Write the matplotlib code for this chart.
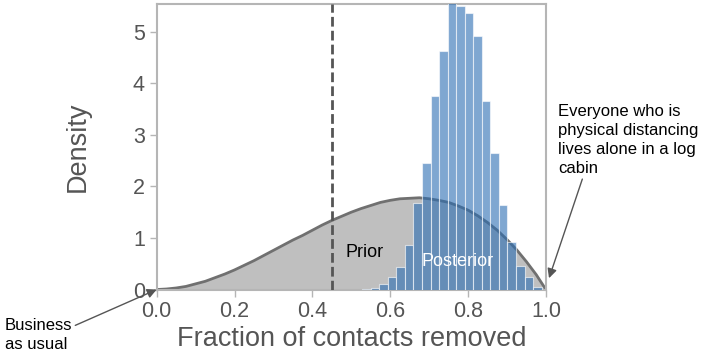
import numpy as np
import matplotlib
matplotlib.use("Agg")
import matplotlib.pyplot as plt

plt.rcParams['font.family'] = ['Liberation Sans', 'DejaVu Sans']

# prior curve, every 0.025
prior_x = [i * 0.025 for i in range(41)]
prior_y = [0.00, 0.01, 0.03, 0.06, 0.11, 0.16, 0.23, 0.30, 0.38, 0.47,
           0.56, 0.66, 0.76, 0.86, 0.96, 1.05, 1.15, 1.25, 1.34, 1.42,
           1.50, 1.57, 1.63, 1.69, 1.73, 1.76, 1.77, 1.78, 1.76, 1.73,
           1.69, 1.62, 1.54, 1.43, 1.30, 1.15, 0.97, 0.77, 0.54, 0.29, 0.00]

# posterior histogram (density)
bin_start = 0.528
bin_width = 0.02195
post_heights = [0.01, 0.02, 0.10, 0.24, 0.44, 0.86, 1.67, 2.45, 3.76, 4.63,
                5.75, 5.50, 5.37, 4.92, 3.65, 2.64, 1.63, 0.93, 0.46, 0.25, 0.05]
post_lefts = [bin_start + i * bin_width for i in range(len(post_heights))]

threshold = 0.45

fig = plt.figure(figsize=(7.24, 3.57), dpi=100)
ax = fig.add_axes([0.2164, 0.189, 0.5376, 0.800])

ax.fill_between(prior_x, prior_y, color='#bfbfbf', lw=0, zorder=1)
ax.plot(prior_x, prior_y, color='#707070', lw=2, zorder=2)
ax.bar(post_lefts, post_heights, width=bin_width, align='edge',
       color='#2a6db3', alpha=0.6, edgecolor='white', linewidth=0.8, zorder=3)
ax.axvline(threshold, color='#555555', lw=2, ls=(0, (3.5, 1.5)), zorder=4)

ax.text(0.535, 0.71, 'Prior', fontsize=13, color='black', ha='center', va='center', zorder=5)
ax.text(0.774, 0.54, 'Posterior', fontsize=13, color='white', ha='center', va='center', zorder=5)

ax.set_xlim(0, 1.0)
ax.set_ylim(0, 5.54)
ax.set_xticks([0.0, 0.2, 0.4, 0.6, 0.8, 1.0])
ax.set_xticklabels(['0.0', '0.2', '0.4', '0.6', '0.8', '1.0'])
ax.set_yticks([0, 1, 2, 3, 4, 5])

for s in ax.spines.values():
    s.set_color('#b5b5b5')
    s.set_linewidth(1.5)
ax.tick_params(colors='#b5b5b5', labelcolor='#555555', labelsize=15.5, length=5, width=1)

ax.set_xlabel('Fraction of contacts removed', fontsize=19.5, color='#555555', labelpad=3)
ax.set_ylabel('Density', fontsize=19.5, color='#555555', labelpad=30)

arrow = dict(arrowstyle='-|>', color='#555555', lw=1, mutation_scale=14, shrinkA=0, shrinkB=0)
ax.annotate('Business\nas usual', xy=(0, 0), xycoords='data',
            xytext=(5, 357 - 335), textcoords='figure pixels',
            fontsize=12, ha='left', va='center', linespacing=1.3,
            arrowprops=dict(arrow, relpos=(1.0, 0.75)), annotation_clip=False)
ax.annotate('Everyone who is\nphysical distancing\nlives alone in a log\ncabin',
            xy=(1.008, 0.22), xycoords='data',
            xytext=(558, 357 - 140), textcoords='figure pixels',
            fontsize=12, ha='left', va='center', linespacing=1.35,
            arrowprops=dict(arrow, relpos=(0.18, 0.0)), annotation_clip=False)

fig.savefig('out.png', dpi=100)
